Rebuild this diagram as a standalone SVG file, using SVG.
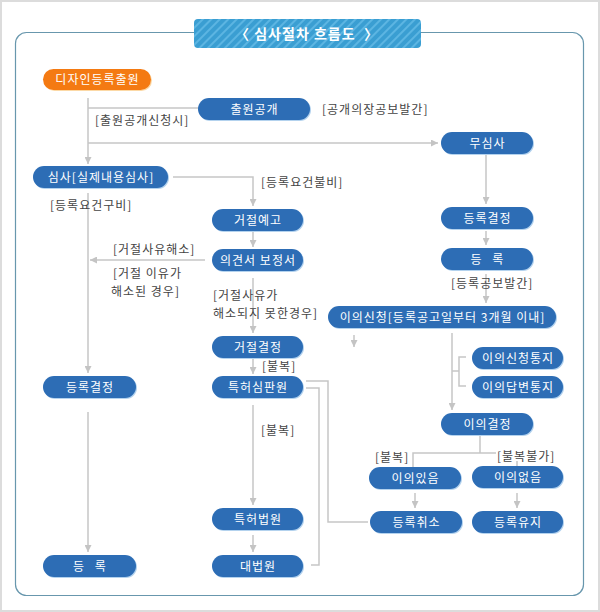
<svg xmlns="http://www.w3.org/2000/svg" width="600" height="612" viewBox="0 0 600 612">
<defs>
<pattern id="stripes" patternUnits="userSpaceOnUse" width="6" height="6" patternTransform="rotate(45)">
<rect width="6" height="6" fill="#3a9ed2"/>
<rect width="2" height="6" fill="#5cb5e2"/>
</pattern>
<marker id="arr" viewBox="0 0 10 10" refX="10" refY="5" markerWidth="7" markerHeight="7" markerUnits="userSpaceOnUse" orient="auto">
<path d="M0,0 L10,5 L0,10 z" fill="#c4c4c4"/>
</marker>
</defs>
<style>
.n{fill:#2d6db5}
.s{fill:#b3d2ee}
.t{font-family:"Noto Sans CJK KR","Noto Sans",sans-serif;font-size:12px;fill:#ffffff;text-anchor:middle;letter-spacing:1px}
.l{font-family:"Noto Sans CJK KR","Noto Sans",sans-serif;font-size:12px;fill:#444444;letter-spacing:1px}
.c{fill:none;stroke:#c6c6c6;stroke-width:1.5}
.a{marker-end:url(#arr)}
</style>
<rect x="1" y="1" width="598" height="610" fill="#ffffff" stroke="#dcdcdc" stroke-width="2"/>
<rect x="15.5" y="32.5" width="568" height="563" rx="11" fill="#ffffff" stroke="#6897ad" stroke-width="1.2"/>
<g id="title">
<rect x="194" y="19" width="227" height="29" rx="4" fill="url(#stripes)"/>
<text x="307" y="39" font-family="'Noto Sans CJK KR','Noto Sans',sans-serif" font-size="14" font-weight="bold" fill="#ffffff" text-anchor="middle" letter-spacing="1" xml:space="preserve">〈 심사절차 흐름도  〉</text>
</g>
<g id="connectors">
<path class="c a" d="M88,98 V164"/>
<path class="c" d="M88,108 H198"/>
<path class="c a" d="M88,143 H438"/>
<path class="c a" d="M173,177 H253 V206"/>
<path class="c a" d="M88,193 V373"/>
<path class="c a" d="M253,232 V247"/>
<path class="c a" d="M205,260 H90"/>
<path class="c a" d="M253,278 V333"/>
<path class="c a" d="M253,358 V374"/>
<path class="c a" d="M253,405 V505"/>
<path class="c a" d="M253,535 V552"/>
<path class="c a" d="M88,412 V552"/>
<path class="c" d="M306,381 H328 V522 H368"/>
<path class="c" d="M306,388 H319 V565 H311"/>
<path class="c a" d="M486,155 V204"/>
<path class="c a" d="M486,231 V245"/>
<path class="c a" d="M486,274 V303"/>
<path class="c a" d="M354,335 V347"/>
<path class="c a" d="M452,333 V410"/>
<path class="c" d="M466,357 H459 V386 H466 M452,371 H459"/>
<path class="c" d="M480,435 V453 M413,467 V453 H496 M517,461 V466"/>
<path class="c a" d="M415,493 V508"/>
<path class="c a" d="M517,493 V508"/>
</g>
<g id="n1"><rect x="44" y="70" width="108" height="21" rx="10.5" fill="#fcd9a6"/><rect x="43" y="69" width="108" height="21" rx="10.5" fill="#f47a12"/><text class="t" x="97.5" y="84">디자인등록출원</text></g>
<g id="n2"><rect class="s" x="199" y="99" width="112" height="22" rx="11"/><rect class="n" x="198" y="98" width="112" height="22" rx="11"/><text class="t" x="254.5" y="113.5">출원공개</text></g>
<g id="n3"><rect class="s" x="442" y="133" width="92" height="22" rx="11"/><rect class="n" x="441" y="132" width="92" height="22" rx="11"/><text class="t" x="487.5" y="147.5">무심사</text></g>
<g id="n4"><rect class="s" x="34" y="167" width="135" height="22" rx="11"/><rect class="n" x="33" y="166" width="135" height="22" rx="11"/><text class="t" x="101" y="181.5">심사[실제내용심사]</text></g>
<g id="n5"><rect class="s" x="213" y="210" width="91" height="22" rx="11"/><rect class="n" x="212" y="209" width="91" height="22" rx="11"/><text class="t" x="258" y="224.5">거절예고</text></g>
<g id="n6"><rect class="s" x="213" y="250" width="91" height="22" rx="11"/><rect class="n" x="212" y="249" width="91" height="22" rx="11"/><text class="t" x="258" y="264.5">의견서 보정서</text></g>
<g id="n7"><rect class="s" x="213" y="337" width="91" height="22" rx="11"/><rect class="n" x="212" y="336" width="91" height="22" rx="11"/><text class="t" x="258" y="351.5">거절결정</text></g>
<g id="n8"><rect class="s" x="213" y="377" width="91" height="22" rx="11"/><rect class="n" x="212" y="376" width="91" height="22" rx="11"/><text class="t" x="258" y="391.5">특허심판원</text></g>
<g id="n9"><rect class="s" x="213" y="509" width="91" height="22" rx="11"/><rect class="n" x="212" y="508" width="91" height="22" rx="11"/><text class="t" x="258" y="523.5">특허법원</text></g>
<g id="n10"><rect class="s" x="213" y="556" width="91" height="22" rx="11"/><rect class="n" x="212" y="555" width="91" height="22" rx="11"/><text class="t" x="258" y="570.5">대법원</text></g>
<g id="n11"><rect class="s" x="44" y="377" width="93" height="22" rx="11"/><rect class="n" x="43" y="376" width="93" height="22" rx="11"/><text class="t" x="90" y="391.5">등록결정</text></g>
<g id="n12"><rect class="s" x="44" y="556" width="93" height="22" rx="11"/><rect class="n" x="43" y="555" width="93" height="22" rx="11"/><text class="t" x="90" y="570.5" word-spacing="6">등 록</text></g>
<g id="n13"><rect class="s" x="442" y="208" width="92" height="22" rx="11"/><rect class="n" x="441" y="207" width="92" height="22" rx="11"/><text class="t" x="487.5" y="222.5">등록결정</text></g>
<g id="n14"><rect class="s" x="442" y="249" width="92" height="22" rx="11"/><rect class="n" x="441" y="248" width="92" height="22" rx="11"/><text class="t" x="487.5" y="263.5" word-spacing="6">등 록</text></g>
<g id="n15"><rect class="s" x="329" y="307" width="228" height="22" rx="11"/><rect class="n" x="328" y="306" width="228" height="22" rx="11"/><text class="t" x="442.5" y="321.5">이의신청[등록공고일부터 3개월 이내]</text></g>
<g id="n16"><rect class="s" x="473" y="348" width="91" height="22" rx="11"/><rect class="n" x="472" y="347" width="91" height="22" rx="11"/><text class="t" x="518" y="362.5">이의신청통지</text></g>
<g id="n17"><rect class="s" x="473" y="377" width="91" height="22" rx="11"/><rect class="n" x="472" y="376" width="91" height="22" rx="11"/><text class="t" x="518" y="391.5">이의답변통지</text></g>
<g id="n18"><rect class="s" x="442" y="414" width="92" height="22" rx="11"/><rect class="n" x="441" y="413" width="92" height="22" rx="11"/><text class="t" x="487.5" y="428.5">이의결정</text></g>
<g id="n19"><rect class="s" x="370" y="468" width="92" height="22" rx="11"/><rect class="n" x="369" y="467" width="92" height="22" rx="11"/><text class="t" x="415.5" y="482.5">이의있음</text></g>
<g id="n20"><rect class="s" x="473" y="467" width="91" height="22" rx="11"/><rect class="n" x="472" y="466" width="91" height="22" rx="11"/><text class="t" x="518" y="481.5">이의없음</text></g>
<g id="n21"><rect class="s" x="371" y="512" width="92" height="22" rx="11"/><rect class="n" x="370" y="511" width="92" height="22" rx="11"/><text class="t" x="416.5" y="526.5">등록취소</text></g>
<g id="n22"><rect class="s" x="473" y="512" width="91" height="22" rx="11"/><rect class="n" x="472" y="511" width="91" height="22" rx="11"/><text class="t" x="518" y="526.5">등록유지</text></g>
<g id="labels">
<text class="l" x="95" y="124.5">[출원공개신청시]</text>
<text class="l" x="322" y="113.5">[공개의장공보발간]</text>
<text class="l" x="261" y="186.5">[등록요건불비]</text>
<text class="l" x="50" y="209.5">[등록요건구비]</text>
<text class="l" x="113" y="253.5">[거절사유해소]</text>
<text class="l" x="113" y="277.5">[거절 이유가</text>
<text class="l" x="111" y="295.5">해소된 경우]</text>
<text class="l" x="213" y="299.5">[거절사유가</text>
<text class="l" x="213" y="317.5">해소되지 못한경우]</text>
<text class="l" x="262" y="370.5">[불복]</text>
<text class="l" x="261" y="434.5">[불복]</text>
<text class="l" x="451" y="287.5">[등록공보발간]</text>
<text class="l" x="375" y="461.5">[불복]</text>
<text class="l" x="497" y="460.5">[불복불가]</text>
</g>
</svg>
